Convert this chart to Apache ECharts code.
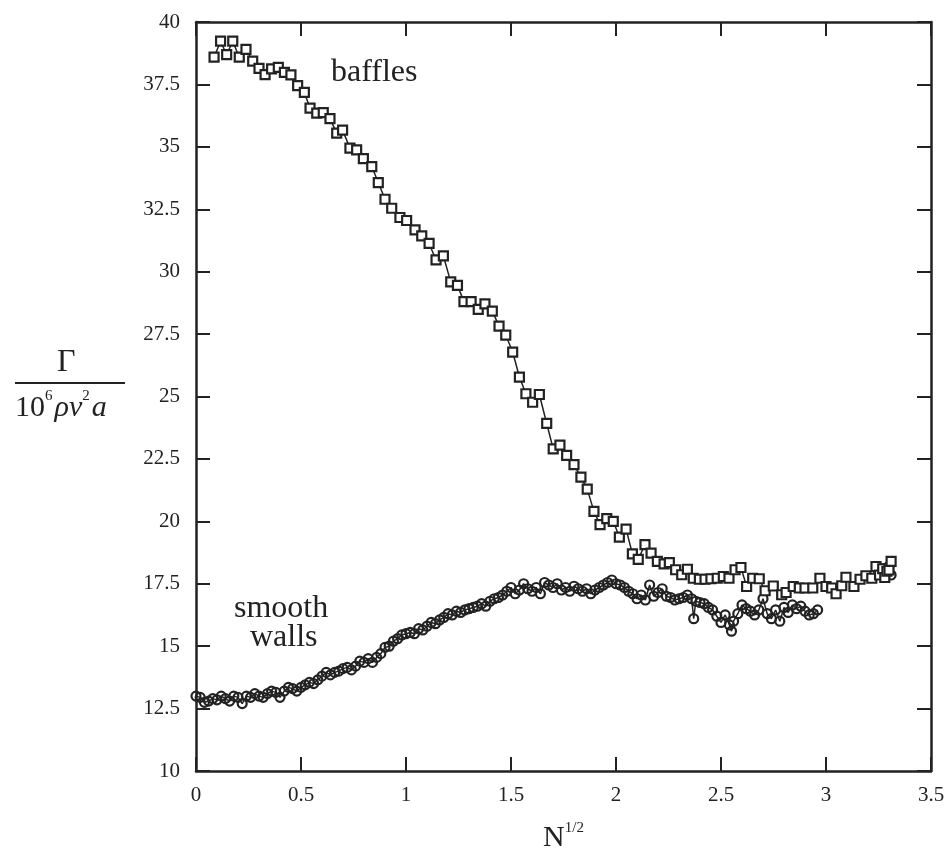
<!DOCTYPE html>
<html><head><meta charset="utf-8">
<script src="https://cdn.jsdelivr.net/npm/echarts@6/dist/echarts.min.js"></script>
<style>html,body{margin:0;padding:0;background:#fff}#c{width:952px;height:859px}</style>
</head><body><div id="c"></div>
<script>
const xTicks = [0, 0.5, 1, 1.5, 2, 2.5, 3, 3.5];
const yTicks = [10, 12.5, 15, 17.5, 20, 22.5, 25, 27.5, 30, 32.5, 35, 37.5, 40];

const bafflesX = [0.086,0.117,0.146,0.175,0.206,0.238,0.27,0.3,0.329,0.36,0.392,0.421,0.452,0.484,0.516,0.543,0.575,0.606,0.638,0.67,0.698,0.733,0.765,0.797,0.837,0.868,0.9,0.932,0.971,1.003,1.043,1.075,1.11,1.143,1.178,1.213,1.245,1.276,1.31,1.344,1.376,1.411,1.443,1.475,1.508,1.54,1.571,1.603,1.635,1.67,1.701,1.733,1.765,1.8,1.833,1.863,1.895,1.924,1.956,1.987,2.016,2.048,2.078,2.106,2.138,2.167,2.197,2.229,2.254,2.284,2.313,2.34,2.368,2.397,2.424,2.452,2.482,2.511,2.538,2.567,2.595,2.622,2.651,2.682,2.71,2.749,2.789,2.81,2.844,2.873,2.9,2.937,2.971,3.0,3.027,3.048,3.075,3.095,3.133,3.162,3.19,3.218,3.238,3.255,3.27,3.28,3.29,3.3,3.31];
const bafflesY = [38.59,39.23,38.69,39.23,38.59,38.9,38.43,38.14,37.89,38.12,38.18,37.98,37.88,37.45,37.18,36.55,36.35,36.37,36.13,35.55,35.67,34.95,34.88,34.53,34.21,33.57,32.9,32.54,32.17,32.05,31.67,31.43,31.13,30.47,30.63,29.59,29.45,28.8,28.8,28.49,28.71,28.42,27.82,27.46,26.78,25.78,25.11,24.77,25.08,23.92,22.9,23.05,22.64,22.27,21.77,21.29,20.4,19.87,20.11,20.0,19.37,19.69,18.7,18.48,19.07,18.73,18.4,18.3,18.35,18.06,17.86,18.08,17.72,17.68,17.68,17.7,17.72,17.79,17.72,18.06,18.15,17.39,17.72,17.7,17.22,17.41,17.06,17.15,17.39,17.33,17.33,17.33,17.72,17.39,17.33,17.1,17.42,17.76,17.39,17.68,17.82,17.72,18.19,17.85,18.1,17.75,18.0,18.05,18.4];

const wallsX = [0,0.02,0.04,0.06,0.08,0.1,0.12,0.14,0.16,0.18,0.2,0.22,0.24,0.26,0.28,0.3,0.32,0.34,0.36,0.38,0.4,0.42,0.44,0.46,0.48,0.5,0.52,0.54,0.56,0.58,0.6,0.62,0.64,0.66,0.68,0.7,0.72,0.74,0.76,0.78,0.8,0.82,0.84,0.86,0.88,0.9,0.92,0.94,0.96,0.98,1.0,1.02,1.04,1.06,1.08,1.1,1.12,1.14,1.16,1.18,1.2,1.22,1.24,1.26,1.28,1.3,1.32,1.34,1.36,1.38,1.4,1.42,1.44,1.46,1.48,1.5,1.52,1.54,1.56,1.58,1.6,1.62,1.64,1.66,1.68,1.7,1.72,1.74,1.76,1.78,1.8,1.82,1.84,1.86,1.88,1.9,1.92,1.94,1.96,1.98,2.0,2.02,2.04,2.06,2.08,2.1,2.12,2.14,2.16,2.18,2.2,2.22,2.24,2.26,2.28,2.3,2.32,2.34,2.36,2.37,2.38,2.4,2.42,2.44,2.46,2.48,2.5,2.52,2.54,2.55,2.56,2.58,2.6,2.62,2.64,2.66,2.68,2.7,2.72,2.74,2.76,2.78,2.8,2.82,2.84,2.86,2.88,2.9,2.92,2.94,2.96,null,3.26,3.27,3.28,3.29,3.3,3.31];
const wallsY = [13.0,12.95,12.75,12.8,12.9,12.85,13.0,12.9,12.8,13.0,12.95,12.7,13.0,12.95,13.1,13.0,12.95,13.1,13.2,13.15,12.95,13.2,13.35,13.3,13.2,13.35,13.45,13.55,13.5,13.65,13.8,13.95,13.85,13.95,14.0,14.1,14.15,14.05,14.2,14.4,14.35,14.5,14.35,14.55,14.7,14.95,15.0,15.2,15.3,15.45,15.5,15.55,15.5,15.7,15.65,15.8,15.95,15.9,16.05,16.15,16.3,16.25,16.4,16.35,16.45,16.5,16.55,16.6,16.7,16.6,16.8,16.9,16.95,17.05,17.2,17.35,17.1,17.25,17.5,17.3,17.2,17.35,17.1,17.55,17.45,17.35,17.5,17.25,17.35,17.2,17.4,17.3,17.2,17.3,17.1,17.25,17.35,17.45,17.55,17.65,17.5,17.45,17.35,17.2,17.1,16.9,17.05,16.85,17.45,17.0,17.15,17.3,17.0,16.95,16.85,16.9,16.95,17.05,16.9,16.1,16.8,16.75,16.7,16.55,16.45,16.2,15.95,16.25,15.85,15.6,16.0,16.3,16.65,16.5,16.4,16.25,16.45,16.9,16.3,16.1,16.45,16.0,16.55,16.35,16.65,16.5,16.6,16.4,16.25,16.3,16.45,null,17.9,18.1,17.8,18.0,18.2,17.85];

const serif = '"Liberation Serif", "DejaVu Serif", serif';
const chart = echarts.init(document.getElementById('c'));
const pairs = (xs, ys) => xs.map((x, i) => (x === null ? [null, null] : [x, ys[i]]));

const axisCommon = {
  min: 0, max: 3.5, interval: 0.5,
  axisLine: { show: true, onZero: false, lineStyle: { color: '#222', width: 2.5 } },
  axisTick: { show: true, inside: true, length: 14, lineStyle: { color: '#222', width: 2 } },
  splitLine: { show: false }
};
const yCommon = {
  min: 10, max: 40, interval: 2.5,
  axisLine: { show: true, onZero: false, lineStyle: { color: '#222', width: 2.5 } },
  axisTick: { show: true, inside: true, length: 14, lineStyle: { color: '#222', width: 2 } },
  splitLine: { show: false }
};

chart.setOption({
  backgroundColor: '#fff',
  animation: false,
  grid: { left: 196, right: 21, top: 22, bottom: 88, containLabel: false },
  xAxis: [
    Object.assign({}, axisCommon, {
      type: 'value', position: 'bottom',
      axisLabel: { color: '#222', fontFamily: serif, fontSize: 21, margin: 14,
        formatter: v => String(v) },
      name: '{n|N}{s|1/2}', nameLocation: 'middle', nameGap: 50,
      nameTextStyle: { rich: {
        n: { fontFamily: serif, fontSize: 30, color: '#222', lineHeight: 32, verticalAlign: 'bottom' },
        s: { fontFamily: serif, fontSize: 15, color: '#222', lineHeight: 32, verticalAlign: 'top' }
      } }
    }),
    Object.assign({}, axisCommon, { type: 'value', position: 'top', axisLabel: { show: false } })
  ],
  yAxis: [
    Object.assign({}, yCommon, {
      type: 'value', position: 'left',
      axisLabel: { color: '#222', fontFamily: serif, fontSize: 21, margin: 16,
        formatter: v => String(v) }
    }),
    Object.assign({}, yCommon, { type: 'value', position: 'right', axisLabel: { show: false } })
  ],
  series: [
    {
      name: 'baffles', type: 'line', data: pairs(bafflesX, bafflesY),
      symbol: 'rect', symbolSize: 9, showAllSymbol: true,
      itemStyle: { color: '#fff', borderColor: '#222', borderWidth: 2.2 },
      lineStyle: { color: '#222', width: 1.5 }, z: 3
    },
    {
      name: 'smooth walls', type: 'line', data: pairs(wallsX, wallsY),
      symbol: 'circle', symbolSize: 9, showAllSymbol: true, connectNulls: false,
      itemStyle: { color: 'rgba(255,255,255,0)', borderColor: '#222', borderWidth: 2.2 },
      lineStyle: { color: '#222', width: 1.5 }, z: 2
    }
  ],
  graphic: [
    { type: 'text', left: 331, top: 57, style: { text: 'baffles', font: '32px ' + serif, fill: '#222' } },
    { type: 'text', left: 234, top: 593, style: { text: 'smooth', font: '32px ' + serif, fill: '#222' } },
    { type: 'text', left: 250, top: 622, style: { text: 'walls', font: '32px ' + serif, fill: '#222' } },
    { type: 'text', left: 57, top: 347, style: { text: 'Γ', font: '32px ' + serif, fill: '#222' } },
    { type: 'line', shape: { x1: 15, y1: 383, x2: 125, y2: 383 }, style: { stroke: '#222', lineWidth: 2 } },
    { type: 'text', left: 15, top: 389, style: {
      text: '{a|10}{s|6}{i|ρν}{s|2}{i|a}',
      rich: {
        a: { fontFamily: serif, fontSize: 30, fill: '#222', lineHeight: 34, verticalAlign: 'bottom' },
        i: { fontFamily: serif, fontSize: 30, fontStyle: 'italic', fill: '#222', lineHeight: 34, verticalAlign: 'bottom' },
        s: { fontFamily: serif, fontSize: 15, fill: '#222', lineHeight: 34, verticalAlign: 'top', padding: [0, 2, 0, 0] }
      }
    } }
  ]
});
</script></body></html>
